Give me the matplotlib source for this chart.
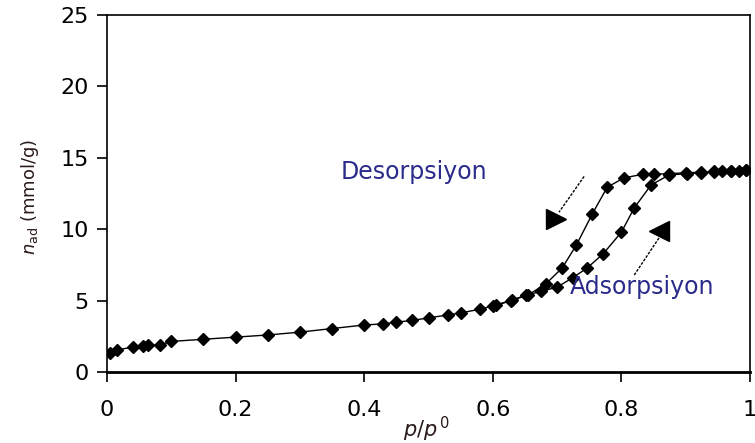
"""Isoterma de adsorción/desorción con lazo de histéresis."""

import matplotlib

matplotlib.use("Agg")
import matplotlib.pyplot as plt

# Rama de adsorción (p/p0, n_ad en mmol/g)
ads_x = [0.005, 0.015, 0.04, 0.056, 0.064, 0.082, 0.10, 0.15, 0.20, 0.25,
         0.30, 0.35, 0.40, 0.43, 0.45, 0.475, 0.50, 0.53, 0.55, 0.58,
         0.605, 0.63, 0.652, 0.675, 0.70, 0.724, 0.747, 0.772, 0.80, 0.82,
         0.846, 0.874, 0.902, 0.924, 0.944, 0.957, 0.97, 0.983, 0.994]
ads_y = [1.35, 1.55, 1.75, 1.85, 1.9, 1.9, 2.15, 2.3, 2.45, 2.6,
         2.8, 3.05, 3.3, 3.38, 3.5, 3.62, 3.8, 4.0, 4.15, 4.4,
         4.7, 5.05, 5.4, 5.65, 5.95, 6.6, 7.3, 8.3, 9.8, 11.5,
         13.1, 13.8, 13.9, 13.95, 14.0, 14.05, 14.1, 14.1, 14.15]

# Rama de desorción
des_x = [0.994, 0.97, 0.944, 0.924, 0.90, 0.874, 0.851, 0.833, 0.804, 0.778,
         0.755, 0.73, 0.708, 0.683, 0.655, 0.628, 0.60]
des_y = [14.15, 14.1, 14.05, 14.0, 13.95, 13.9, 13.85, 13.85, 13.6, 12.95,
         11.1, 8.9, 7.3, 6.2, 5.4, 5.0, 4.6]

x_ticks = [0, 0.2, 0.4, 0.6, 0.8, 1]
x_tick_labels = ["0", "0.2", "0.4", "0.6", "0.8", "1"]
y_ticks = [0, 5, 10, 15, 20, 25]

plt.rcParams["font.family"] = ["DejaVu Sans"]

fig = plt.figure(figsize=(7.55, 4.43), dpi=100)
ax = fig.add_axes([0.1417, 0.160, 0.8517, 0.806])

for xs, ys in [(ads_x, ads_y), (des_x, des_y)]:
    ax.plot(xs, ys, color="black", lw=1.0, marker="D", ms=6.3,
            mfc="black", mec="black")

# flechas indicando el sentido de cada rama
ax.plot([0.742, 0.703], [13.7, 11.2], color="black", lw=1.0, ls=(0, (2, 1)))
ax.plot([0.699], [10.7], marker=">", ms=15, color="black")
ax.plot([0.82, 0.863], [6.8, 9.7], color="black", lw=1.0, ls=(0, (2, 1)))
ax.plot([0.859], [9.87], marker="<", ms=15, color="black")

ax.text(0.363, 14.0, "Desorpsiyon", color="#2b2b8c", fontsize=17,
        va="center", ha="left")
ax.text(0.719, 5.95, "Adsorpsiyon", color="#2b2b8c", fontsize=17,
        va="center", ha="left")

ax.set_xlim(0, 1)
ax.set_ylim(0, 25)
ax.set_xticks(x_ticks)
ax.set_xticklabels(x_tick_labels)
ax.set_yticks(y_ticks)
ax.tick_params(direction="out", length=7, width=1.2, labelsize=16,
               colors="black", pad=6)
ax.tick_params(axis="x", pad=13)
for side in ["left", "bottom", "top", "right"]:
    ax.spines[side].set_linewidth(1.2)
ax.spines["bottom"].set_linewidth(2.0)

fig.text(0.04, 0.555, r"$n_{\mathrm{ad}}$ (mmol/g)", rotation=90,
         ha="center", va="center", fontsize=13, color="#2a1a1a")
fig.text(0.565, 0.03, r"$p/p^{\,0}$", ha="center", va="center",
         fontsize=15, color="#2a1a1a")

fig.savefig("out.png", dpi=100)
